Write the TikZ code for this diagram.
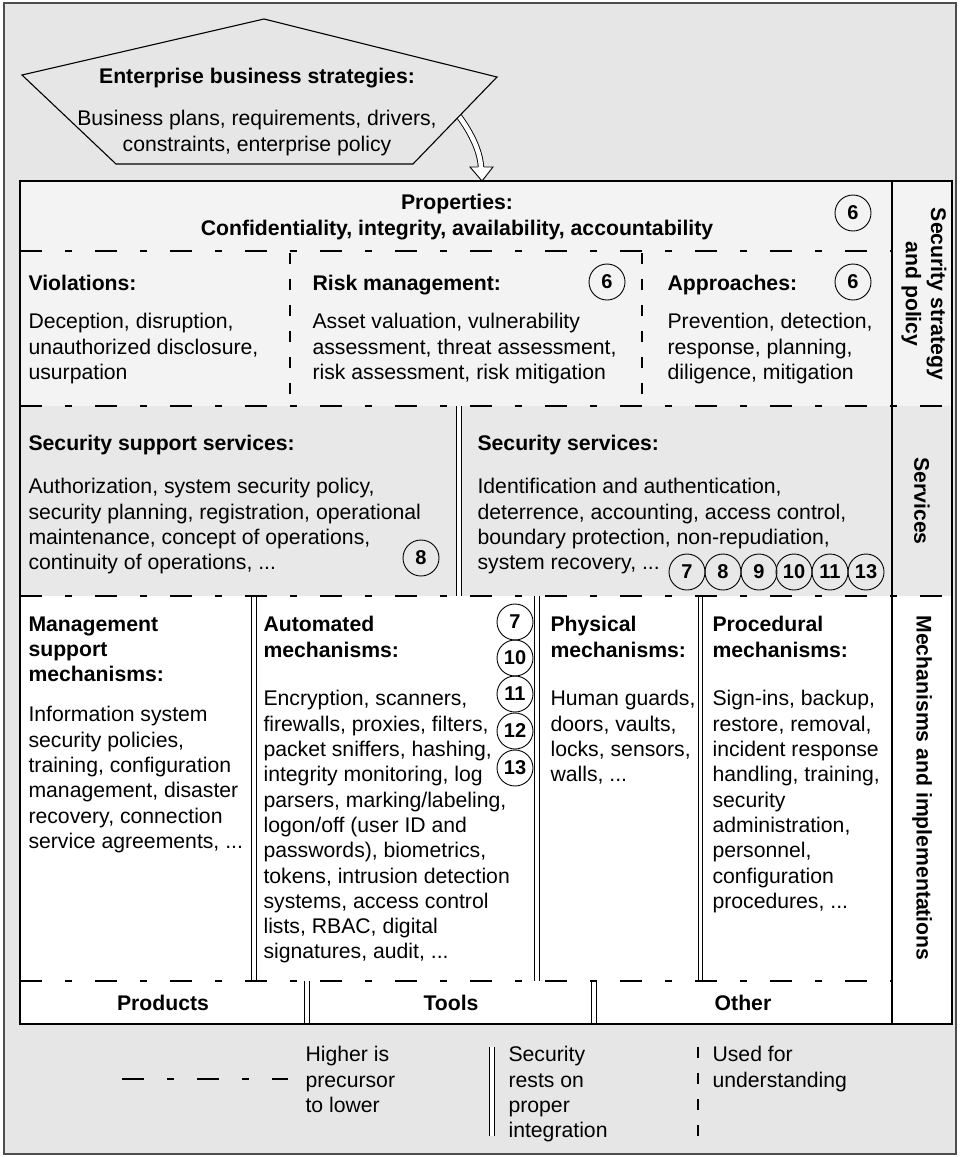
\documentclass[tikz,border=0pt]{standalone}
\usepackage{fontspec}
\setmainfont{Liberation Sans}
\newcommand\bodyfnt{\fontsize{21.2}{25.3}\selectfont}
\newcommand\numfnt{\fontsize{20}{20}\selectfont\bfseries}
\definecolor{bggray}{HTML}{E6E6E6}
\definecolor{lightrow}{HTML}{F3F3F3}
\definecolor{svcrow}{HTML}{E8E8E8}
\definecolor{framec}{HTML}{4D4D4D}
\begin{document}
\begin{tikzpicture}[x=1pt,y=-1pt,
  line width=1.1pt,
  body/.style={font=\bodyfnt, inner sep=0pt, anchor=north west, align=left},
  head/.style={font=\bodyfnt\bfseries, inner sep=0pt, anchor=north west, align=left},
  num/.style={circle, draw=black, line width=0.9pt, minimum size=36pt, inner sep=0pt, font=\numfnt},
  rowdash/.style={dash pattern=on 22pt off 23pt on 7pt off 23pt, line width=1.1pt},
  vdash/.style={dash pattern=on 11pt off 15pt, line width=1.1pt},
  dbl/.style={double=white, double distance=3.6pt, line width=1pt},
  lbl/.style={font=\bodyfnt\bfseries, rotate=-90, align=center, inner sep=0pt},
  cell/.style={font=\bodyfnt\bfseries, inner sep=0pt, anchor=base}
]
\path[use as bounding box] (0,0) rectangle (960,1157);
% background frame
\draw[draw=framec, fill=bggray, line width=1.5pt] (4,3) rectangle (956,1154);

% row fills
\fill[lightrow] (20,181) rectangle (952,406);
\fill[svcrow] (20,406) rectangle (952,596);
\fill[white] (20,596) rectangle (952,1024);

% double line dividers
\draw[dbl] (459,406) -- (459,596);
\draw[dbl] (254,596) -- (254,981);
\draw[dbl] (537,596) -- (537,981);
\draw[dbl] (700.5,596) -- (700.5,981);
\draw[dbl] (307,981) -- (307,1024);
\draw[dbl] (594,981) -- (594,1024);

% dashed dividers
\draw[rowdash] (20,251) -- (892,251);
\draw[rowdash] (20,406) -- (952,406);
\draw[rowdash] (20,596) -- (952,596);
\draw[rowdash] (20,981) -- (892,981);
\draw[vdash] (290,253) -- (290,406);
\draw[vdash] (642,253) -- (642,406);

% table border and label column
\draw[line width=1.4pt] (20,181) rectangle (952,1024);
\draw[line width=1.2pt] (892,181) -- (892,1024);

% arrow from strategies to properties
\coordinate (arrS) at (455,111);
\coordinate (arrE) at (481,167);
\draw[dbl, double distance=4.5pt, line width=0.9pt] (arrS) .. controls (470,130) and (480,150) .. (arrE);
\fill[white] (470,167) -- (493,167) -- (482,181) -- cycle;
\draw[line width=0.9pt, line join=miter] (478,167) -- (470,167) -- (482,181) -- (493,167) -- (484,167);

% pentagon
\draw[fill=bggray, line width=1.1pt] (264,19) -- (497,77) -- (413,164) -- (116,164) -- (22,75) -- cycle;
\node[font=\bodyfnt\bfseries, inner sep=0pt, anchor=base] (entH) at (257,83) {Enterprise business strategies:};
\node[font=\bodyfnt, inner sep=0pt, anchor=north, align=center] (entB) at (257,110)
  {Business plans, requirements, drivers,\\constraints, enterprise policy};

% properties
\node[font=\bodyfnt\bfseries, inner sep=0pt, anchor=north, align=center] (prop) at (457,194)
  {Properties:\\Confidentiality, integrity, availability, accountability};
\node[num] (c6a) at (853,213) {6};

% row 2
\node[head] (vioH) at (28,275) {Violations:};
\node[body] (vioB) at (28,313) {Deception, disruption,\\unauthorized disclosure,\\usurpation};
\node[head] (riskH) at (312,275) {Risk management:};
\node[body] (riskB) at (312,313) {Asset valuation, vulnerability\\assessment, threat assessment,\\risk assessment, risk mitigation};
\node[num] (c6b) at (607,282) {6};
\node[head] (apprH) at (667,275) {Approaches:};
\node[body] (apprB) at (667,313) {Prevention, detection,\\response, planning,\\diligence, mitigation};
\node[num] (c6c) at (853,282) {6};

% services row
\node[head] (ssupH) at (28,435) {Security support services:};
\node[body] (ssupB) at (28,478) {Authorization, system security policy,\\security planning, registration, operational\\maintenance, concept of operations,\\continuity of operations, ...};
\node[num] (c8a) at (421,558) {8};
\node[head] (ssrvH) at (477,435) {Security services:};
\node[body] (ssrvB) at (477,478) {Identification and authentication,\\deterrence, accounting, access control,\\boundary protection, non-repudiation,\\system recovery, ...};
\node[num] (s7) at (687,572) {7};
\node[num] (s8) at (723,572) {8};
\node[num] (s9) at (759,572) {9};
\node[num] (s10) at (794,572) {10};
\node[num] (s11) at (830,572) {11};
\node[num] (s13) at (866,572) {13};

% mechanisms row
\node[head] (mgmtH) at (28,616) {Management\\support\\mechanisms:};
\node[body] (mgmtB) at (28,706) {Information system\\security policies,\\training, configuration\\management, disaster\\recovery, connection\\service agreements, ...};
\node[head] (autoH) at (263,616) {Automated\\mechanisms:};
\node[body] (autoB) at (263,690) {Encryption, scanners,\\firewalls, proxies, filters,\\packet sniffers, hashing,\\integrity monitoring, log\\parsers, marking/labeling,\\logon/off (user ID and\\passwords), biometrics,\\tokens, intrusion detection\\systems, access control\\lists, RBAC, digital\\signatures, audit, ...};
\node[num] (a7) at (515,622) {7};
\node[num] (a10) at (515,658) {10};
\node[num] (a11) at (515,694) {11};
\node[num] (a12) at (515,731) {12};
\node[num] (a13) at (515,768) {13};
\node[head] (physH) at (550,616) {Physical\\mechanisms:};
\node[body] (physB) at (550,690) {Human guards,\\doors, vaults,\\locks, sensors,\\walls, ...};
\node[head] (procH) at (712,616) {Procedural\\mechanisms:};
\node[body] (procB) at (712,690) {Sign-ins, backup,\\restore, removal,\\incident response\\handling, training,\\security\\administration,\\personnel,\\configuration\\procedures, ...};

% bottom row
\node[cell] (prod) at (163,1010) {Products};
\node[cell] (tools) at (451,1010) {Tools};
\node[cell] (other) at (743,1010) {Other};

% label column
\node[lbl] (lblA) at (924,294) {Security strategy\\and policy};
\node[lbl] (lblB) at (922,501) {Services};
\node[lbl] (lblC) at (922,788) {Mechanisms and implementations};

% legend
\coordinate (lgA1) at (122,1079);
\coordinate (lgA2) at (288,1079);
\draw[rowdash] (lgA1) -- (lgA2);
\node[body] (lgAT) at (305,1046) {Higher is\\precursor\\to lower};
\coordinate (lgB1) at (492,1047);
\coordinate (lgB2) at (492,1136);
\draw[dbl] (lgB1) -- (lgB2);
\node[body] (lgBT) at (508,1046) {Security\\rests on\\proper\\integration};
\coordinate (lgC1) at (698,1047);
\coordinate (lgC2) at (698,1138);
\draw[vdash] (lgC1) -- (lgC2);
\node[body] (lgCT) at (712,1046) {Used for\\understanding};
\end{tikzpicture}
\end{document}
